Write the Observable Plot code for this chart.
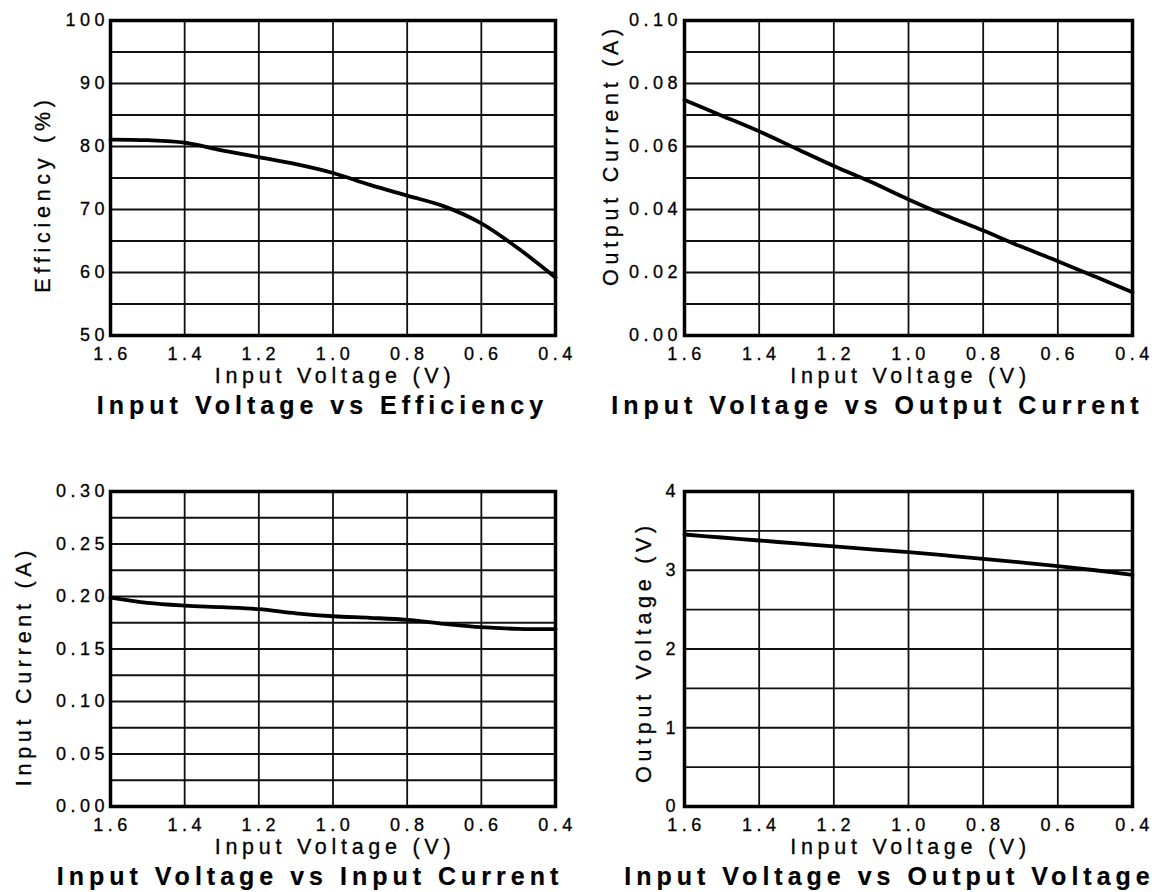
<!DOCTYPE html>
<html>
<head>
<meta charset="utf-8">
<script src="https://cdn.jsdelivr.net/npm/d3@7"></script>
<script src="https://cdn.jsdelivr.net/npm/@observablehq/plot@0.6"></script>
<style>
html, body { margin: 0; padding: 0; background: #fff; }
#root { position: relative; width: 1160px; height: 892px; overflow: hidden; background: #fff; }
.panel { position: absolute; }
.panel svg { display: block; }
.panel text { letter-spacing: 0.25em; stroke: #000; stroke-width: 0.3px; }
.panel g[font-size="21.5"] text { letter-spacing: 0.22em; }
.panel g[font-weight="bold"] text { letter-spacing: 0.2em; stroke-width: 0.2px; }
</style>
</head>
<body>
<div id="root"></div>
<script>
// ---- data ----
const inputVoltage = [1.6, 1.5, 1.4, 1.3, 1.2, 1.1, 1.0, 0.9, 0.8, 0.7, 0.6, 0.5, 0.4];
const efficiency = [81.1, 81.0, 80.6, 79.4, 78.3, 77.2, 75.8, 73.9, 72.2, 70.5, 67.8, 63.8, 59.2];
const outputCurrent = [0.0748, 0.0698, 0.0648, 0.0593, 0.0538, 0.0487, 0.0432, 0.0381, 0.0333, 0.0283, 0.0236, 0.0187, 0.0137];
const inputCurrent = [0.199, 0.194, 0.1914, 0.1898, 0.1879, 0.184, 0.1812, 0.1797, 0.1778, 0.174, 0.1708, 0.1692, 0.1689];
const outputVoltage = [3.454, 3.416, 3.378, 3.34, 3.302, 3.266, 3.23, 3.188, 3.145, 3.10, 3.052, 3.0, 2.942];

// ---- ticks and grid ----
const xTicks = [1.6, 1.4, 1.2, 1.0, 0.8, 0.6, 0.4];
const xGrid = [1.4, 1.2, 1.0, 0.8, 0.6];
const effTicks = [50, 60, 70, 80, 90, 100];
const effGrid = [55, 60, 65, 70, 75, 80, 85, 90, 95];
const outCurTicks = [0, 0.02, 0.04, 0.06, 0.08, 0.10];
const outCurGrid = [0.01, 0.02, 0.03, 0.04, 0.05, 0.06, 0.07, 0.08, 0.09];
const inCurTicks = [0, 0.05, 0.10, 0.15, 0.20, 0.25, 0.30];
const inCurGrid = [0.025, 0.05, 0.075, 0.10, 0.125, 0.15, 0.175, 0.20, 0.225, 0.25, 0.275];
const outVTicks = [0, 1, 2, 3, 4];
const outVGrid = [0.5, 1, 1.5, 2, 2.5, 3, 3.5];

// ---- texts ----
const xLabel = "Input Voltage (V)";
const yLabels = ["Efficiency (%)", "Output Current (A)", "Input Current (A)", "Output Voltage (V)"];
const titles = ["Input Voltage vs Efficiency", "Input Voltage vs Output Current", "Input Voltage vs Input Current", "Input Voltage vs Output Voltage"];

const panels = [
  {left: 0, top: 0, width: 580, height: 440, mL: 110, mR: 25, mT: 20, mB: 105,
   values: efficiency, yDomain: [50, 100], yTicks: effTicks, yGrid: effGrid, yFormat: d => String(d), tp: 1.5,
   yLabel: yLabels[0], yDx: -67, yDy: 16, title: titles[0], tDx: -10.5},
  {left: 580, top: 0, width: 580, height: 440, mL: 104, mR: 28, mT: 20, mB: 105,
   values: outputCurrent, yDomain: [0, 0.10], yTicks: outCurTicks, yGrid: outCurGrid, yFormat: d3.format(".2f"), tp: 2.5,
   yLabel: yLabels[1], yDx: -73, yDy: -23, title: titles[1], tDx: -31},
  {left: 0, top: 471, width: 580, height: 421, mL: 110, mR: 25, mT: 20, mB: 86,
   values: inputCurrent, yDomain: [0, 0.30], yTicks: inCurTicks, yGrid: inCurGrid, yFormat: d3.format(".2f"), tp: 1.5,
   yLabel: yLabels[2], yDx: -86, yDy: 17, title: titles[2], tDx: -23},
  {left: 580, top: 471, width: 580, height: 421, mL: 104, mR: 28, mT: 20, mB: 86,
   values: outputVoltage, yDomain: [0, 4], yTicks: outVTicks, yGrid: outVGrid, yFormat: d => String(d), tp: 4.5,
   yLabel: yLabels[3], yDx: -40, yDy: 3, title: titles[3], tDx: -19}
];

const root = document.getElementById("root");
for (const p of panels) {
  const data = inputVoltage.map((v, i) => ({v, y: p.values[i]}));
  const chart = Plot.plot({
    width: p.width,
    height: p.height,
    marginLeft: p.mL,
    marginRight: p.mR,
    marginTop: p.mT,
    marginBottom: p.mB,
    style: {fontFamily: "'Liberation Sans', Arial, Helvetica, sans-serif", fontSize: "18px", color: "#000", background: "#fff", overflow: "visible"},
    x: {domain: [1.6, 0.4]},
    y: {domain: p.yDomain},
    marks: [
      Plot.ruleY(p.yGrid, {stroke: "#111", strokeWidth: 1.8}),
      Plot.ruleX(xGrid, {stroke: "#111", strokeWidth: 1.8}),
      Plot.line(data, {x: "v", y: "y", curve: "catmull-rom", stroke: "#000", strokeWidth: 3.8}),
      Plot.frame({stroke: "#000", strokeWidth: 3.5}),
      Plot.axisX(xTicks, {tickSize: 0, tickPadding: 12, tickFormat: d3.format(".1f"), label: null, dx: 2}),
      Plot.axisY(p.yTicks, {tickSize: 0, tickPadding: p.tp, tickFormat: p.yFormat, label: null}),
      Plot.text([xLabel], {text: d => d, frameAnchor: "bottom", textAnchor: "middle", lineAnchor: "middle", dx: 2, dy: 40.5, fontSize: 21.5}),
      Plot.text([p.yLabel], {text: d => d, frameAnchor: "left", textAnchor: "middle", lineAnchor: "middle", rotate: -90, dx: p.yDx, dy: p.yDy, fontSize: 21.5}),
      Plot.text([p.title], {text: d => d, frameAnchor: "bottom", textAnchor: "middle", lineAnchor: "middle", dx: p.tDx, dy: 70, fontSize: 25, fontWeight: "bold"})
    ]
  });
  const div = document.createElement("div");
  div.className = "panel";
  div.style.left = p.left + "px";
  div.style.top = p.top + "px";
  div.appendChild(chart);
  root.appendChild(div);
}
</script>
</body>
</html>
